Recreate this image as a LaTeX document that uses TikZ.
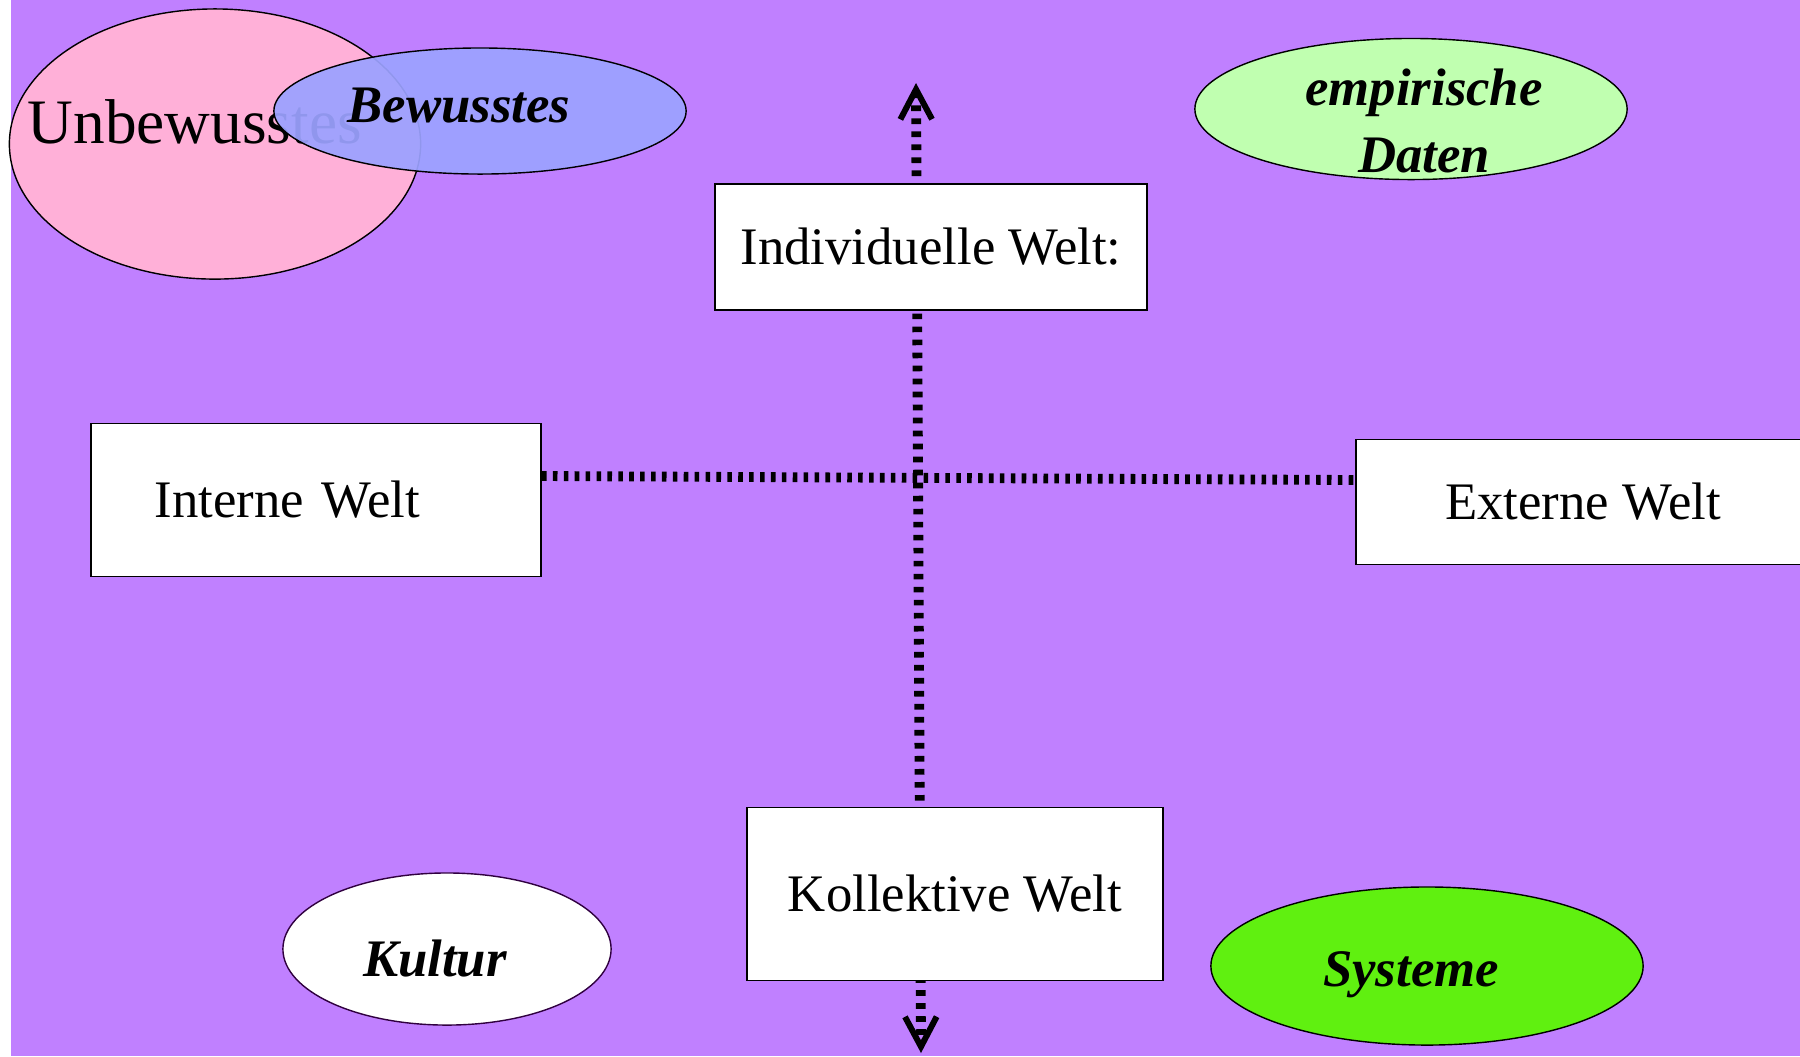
\documentclass[tikz,border=0pt]{standalone}
\usepackage{fontspec}
\setmainfont{Liberation Serif}
\usetikzlibrary{shapes.geometric,arrows.meta,positioning}

\definecolor{hintergrund}{RGB}{192,128,255}
\definecolor{rosa}{RGB}{255,176,216}
\definecolor{blaulila}{RGB}{156,162,255}
\definecolor{hellgruen}{RGB}{192,255,176}
\definecolor{grasgruen}{RGB}{96,240,16}
\definecolor{dunkellila}{RGB}{48,0,64}

\begin{document}
\begin{tikzpicture}[x=0.01cm, y=-0.01cm,
    every node/.style={font=\fontsize{15pt}{19pt}\selectfont},
    welt/.style={rectangle, draw=black, line width=0.5pt, fill=white},
    blase/.style={ellipse, draw=black, line width=0.4pt, inner sep=0pt},
    beschriftung/.style={inner sep=0pt, align=center, font=\fontsize{15pt}{19pt}\selectfont\bfseries\itshape},
    achse/.style={line width=2.8pt, dash pattern=on 1.6pt off 2.1pt},
    >={Straight Barb[length=8.5pt,width=9pt,line width=1.7pt]}]

    % hintergrund
    \useasboundingbox (0,0) rectangle (1800,1056);
    \fill[hintergrund] (11,0) rectangle (1800,1056);

    % vertikale achse
    \coordinate (oben) at (916,83);
    \coordinate (unten) at (921,1053);
    \draw[achse,<->] (oben) -- (unten);

    % unbewusstes und bewusstes
    \node[blase, fill=rosa, minimum width=4.11cm, minimum height=2.7cm] (unbewusst) at (215,144) {};
    \node[anchor=base west, inner sep=0pt, font=\fontsize{18pt}{22pt}\selectfont] (unbewusstText) at (27,143) {Unbewusstes};
    \node[blase, fill=blaulila, fill opacity=0.93, minimum width=4.12cm, minimum height=1.26cm] (bewusst) at (480,111) {};
    \node[beschriftung] (bewusstText) at ([xshift=-0.21cm, yshift=0.05cm]bewusst.center) {Bewusstes};

    % empirische daten
    \node[blase, fill=hellgruen, minimum width=4.32cm, minimum height=1.41cm] (empirie) at (1411,109) {};
    \node[beschriftung] (empirieText) at ([xshift=0.13cm, yshift=-0.12cm]empirie.center) {empirische\\Daten};

    % die vier welten
    \node[welt, minimum width=4.32cm, minimum height=1.26cm] (individuell) at (931,247) {Individuelle Welt:};
    \node[welt, minimum width=4.5cm, minimum height=1.53cm, text width=3.22cm, inner xsep=0.64cm, align=left] (intern) at (316,500) {Interne Welt};
    \node[welt, minimum width=4.54cm, minimum height=1.25cm] (extern) at (1583,502) {Externe Welt};
    \node[welt, minimum width=4.16cm, minimum height=1.73cm] (kollektiv) at (955,894) {Kollektive Welt};

    % kultur und systeme
    \node[blase, fill=white, draw=dunkellila, minimum width=3.28cm, minimum height=1.52cm] (kultur) at (447,949) {};
    \node[beschriftung] (kulturText) at ([xshift=-0.12cm, yshift=-0.09cm]kultur.center) {Kultur};
    \node[blase, fill=grasgruen, minimum width=4.32cm, minimum height=1.58cm] (systeme) at (1427,966) {};
    \node[beschriftung] (systemeText) at ([xshift=-0.16cm, yshift=-0.09cm]systeme.center) {Systeme};

    % horizontale achse
    \draw[achse, dash pattern=on 1.3pt off 1.8pt] ([yshift=0.24cm]intern.east) -- ([yshift=0.22cm]extern.west);

\end{tikzpicture}
\end{document}
